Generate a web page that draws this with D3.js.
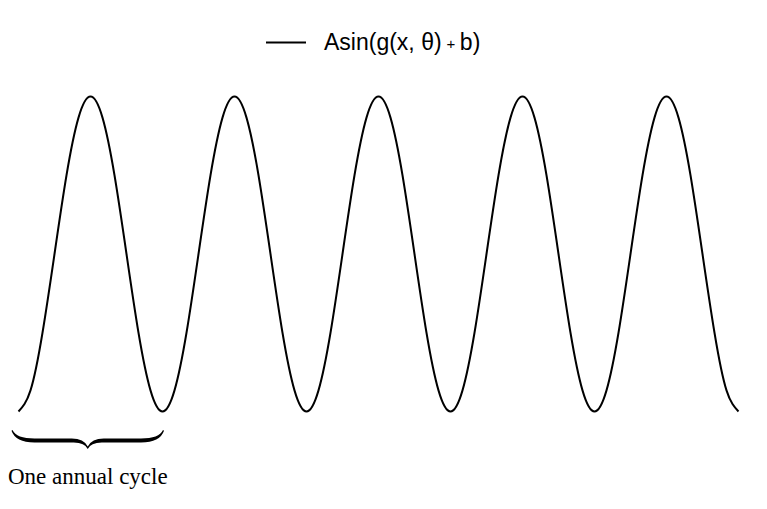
<!DOCTYPE html>
<html><head><meta charset="utf-8">
<script src="https://cdn.jsdelivr.net/npm/d3@7"></script>
<style>body{margin:0;background:#fff}svg{display:block}</style>
</head><body>
<svg id="c" width="767" height="509"></svg>
<script>
// Month index (5 annual cycles)
const months = [0,1,2,3,4,5,6,7,8,9,10,11,12,13,14,15,16,17,18,19,20,21,22,23,24,25,26,27,28,29,30,31,32,33,34,35,36,37,38,39,40,41,42,43,44,45,46,47,48,49,50,51,52,53,54,55,56,57,58,59,60];
// Normalised signal (0 = trough, 1 = peak)
const signal = [0,0.067,0.25,0.5,0.75,0.933,1,0.933,0.75,0.5,0.25,0.067,
                0,0.067,0.25,0.5,0.75,0.933,1,0.933,0.75,0.5,0.25,0.067,
                0,0.067,0.25,0.5,0.75,0.933,1,0.933,0.75,0.5,0.25,0.067,
                0,0.067,0.25,0.5,0.75,0.933,1,0.933,0.75,0.5,0.25,0.067,
                0,0.067,0.25,0.5,0.75,0.933,1,0.933,0.75,0.5,0.25,0.067,0];
const legendLabel = ["Asin(g(x, θ)", "+", "b)"];
const braceLabel = "One annual cycle";
const braceSpan = [0, 12];

const svg = d3.select("#c");
const x = d3.scaleLinear().domain([0, 60]).range([18.5, 738.5]);
const y = d3.scaleLinear().domain([0, 1]).range([411.5, 96.5]);

const data = months.map((m, i) => ({m, v: signal[i]}));
const line = d3.line().x(d => x(d.m)).y(d => y(d.v)).curve(d3.curveNatural);
svg.append("path").datum(data).attr("d", line)
  .attr("fill", "none").attr("stroke", "#000").attr("stroke-width", 2);

// Legend
svg.append("line").attr("x1", 266).attr("x2", 306).attr("y1", 42.5).attr("y2", 42.5)
  .attr("stroke", "#000").attr("stroke-width", 2);
const lt = svg.append("text").attr("x", 324).attr("y", 50)
  .attr("font-family", "'Liberation Sans', Arial, sans-serif").attr("font-size", 23).attr("fill", "#000");
lt.append("tspan").text(legendLabel[0]);
lt.append("tspan").attr("dx", 5).attr("font-size", 15).attr("dy", -1.5).text(legendLabel[1]);
lt.append("tspan").attr("dx", 4.5).attr("dy", 1.5).text(legendLabel[2]);

// Brace
const bx0 = x(braceSpan[0]) - 6, bx1 = x(braceSpan[1]) + 0.5, bm = (bx0 + bx1) / 2;
const bt = 430, bh = 438.5, bl = 442.5, tip = 449;
const p = d3.path();
p.moveTo(bx0, bt);
p.quadraticCurveTo(bx0 + 4, bh, bx0 + 22, bh);
p.lineTo(bm - 16, bh);
p.quadraticCurveTo(bm - 4, bh, bm, tip - 2.5);
p.quadraticCurveTo(bm + 4, bh, bm + 16, bh);
p.lineTo(bx1 - 22, bh);
p.quadraticCurveTo(bx1 - 4, bh, bx1, bt);
p.lineTo(bx1 + 1, bt + 0.8);
p.quadraticCurveTo(bx1 - 3, bl, bx1 - 22, bl);
p.lineTo(bm + 14, bl);
p.quadraticCurveTo(bm + 3, bl, bm, tip);
p.quadraticCurveTo(bm - 3, bl, bm - 14, bl);
p.lineTo(bx0 + 22, bl);
p.quadraticCurveTo(bx0 + 3, bl, bx0 - 1, bt + 0.8);
p.closePath();
svg.append("path").attr("d", p.toString()).attr("fill", "#000");

svg.append("text").attr("x", 8).attr("y", 484)
  .attr("font-family", "'Liberation Serif', 'Times New Roman', serif").attr("font-size", 23)
  .attr("fill", "#000").text(braceLabel);
</script>
</body></html>
